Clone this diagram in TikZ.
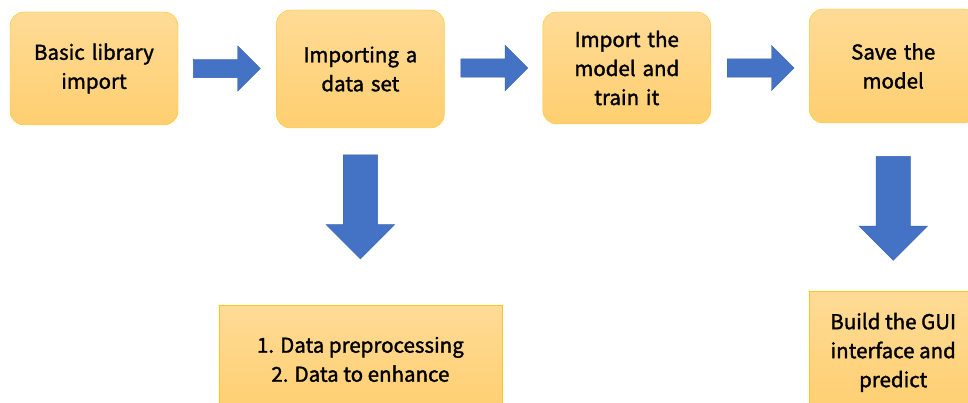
\documentclass[tikz,border=0pt]{standalone}
\usepackage{fontspec}
\setmainfont{Noto Sans CJK SC}[FakeBold=1.6]
\usepackage{tikz}
\usetikzlibrary{shapes.arrows, positioning}

\definecolor{boxtop}{HTML}{FFDB96}
\definecolor{boxbot}{HTML}{FFCF70}
\definecolor{boxline}{HTML}{FFC41F}
\definecolor{arrowfill}{HTML}{4472C4}
\definecolor{arrowline}{HTML}{3A64B0}

\begin{document}
\begin{tikzpicture}[
    x=1pt, y=1pt,
    node distance=98pt and 98pt,
    block/.style={rectangle, draw=boxline, top color=boxtop, bottom color=boxbot, rounded corners=14pt, text width=150pt, align=center, minimum width=168pt, minimum height=113pt, inner sep=0pt, font=\fontsize{20.5}{29}\selectfont},
    note/.style={rectangle, draw=boxline, top color=boxtop, bottom color=boxbot, align=center, minimum height=108pt, inner sep=0pt, font=\fontsize{20.5}{29}\selectfont},
    rarrow/.style={single arrow, draw=arrowline, fill=arrowfill, inner xsep=0pt, inner ysep=9pt, minimum height=67pt, single arrow head extend=13.5pt},
    darrow/.style={single arrow, draw=arrowline, fill=arrowfill, inner xsep=0pt, inner ysep=17pt, minimum height=104pt, single arrow head extend=17pt, rotate=-90}
]
\useasboundingbox (0,0) rectangle (968,-403);
\clip (0,0) rectangle (968,-403);

\node [block] (basic) at (94,-68.5) {Basic library\\import};
\node [block, right=of basic, minimum height=118pt, yshift=-0.5pt] (dataset) {Importing a\\data set};
\node [block, right=of dataset, minimum height=112pt, yshift=1pt] (train) {Import the\\model and\\train it};
\node [block, right=of train, minimum height=114pt, yshift=2pt] (save) {Save the\\model};
\node [note, minimum width=283pt, below=177pt of dataset] (prep) {1. Data preprocessing\\2. Data to enhance};
\node [note, minimum width=168pt, minimum height=122pt, below=168pt of save] (gui) {Build the GUI\\interface and\\predict};

% block arrows between the steps
\node [rarrow, right=15pt of basic, anchor=tail] (a1) {};
\node [rarrow, right=16pt of dataset, anchor=tail, yshift=1pt] (a2) {};
\node [rarrow, right=16pt of train, anchor=tail] (a3) {};
\node [darrow, below=26.5pt of dataset, anchor=tail] (d1) {};
\node [darrow, below=32pt of save, anchor=tail, xshift=1pt] (d2) {};

\end{tikzpicture}
\end{document}
